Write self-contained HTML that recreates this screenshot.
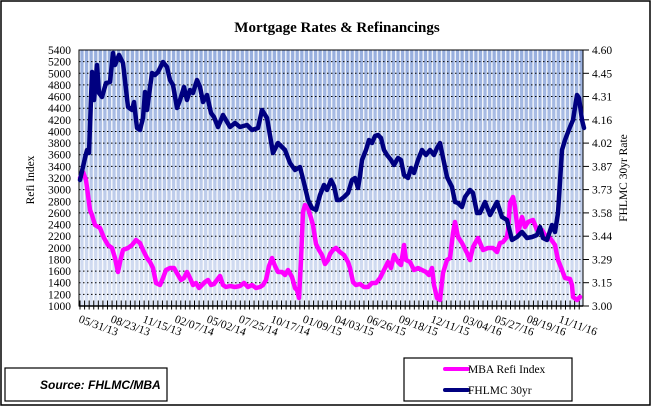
<!DOCTYPE html>
<html><head><style>
html,body{margin:0;padding:0;background:#fff;}
svg{display:block;}
text{font-family:"Liberation Serif",serif;}
</style></head><body>
<svg width="652" height="408" viewBox="0 0 652 408" xmlns="http://www.w3.org/2000/svg">
<defs>
<linearGradient id="bg" x1="0" y1="0" x2="0" y2="1">
<stop offset="0" stop-color="#97aede"/><stop offset="1" stop-color="#dbe3f4"/>
</linearGradient>
<pattern id="st" x="79" y="0" width="4.58" height="10" patternUnits="userSpaceOnUse">
<rect x="0" y="0" width="1.4" height="10" fill="#ffffff" opacity="0.85"/>
</pattern>
</defs>
<rect x="1" y="1" width="649" height="404" fill="#fff" stroke="#000" stroke-width="1.5"/>
<text x="337" y="32" text-anchor="middle" font-size="15" font-weight="bold">Mortgage Rates &amp; Refinancings</text>
<rect x="79" y="50" width="504" height="256" fill="url(#bg)"/>
<rect x="79" y="50" width="504" height="256" fill="url(#st)"/>
<g stroke="#000" stroke-width="1" stroke-dasharray="1.5,2.5">
<line x1="79" x2="583" y1="61.6" y2="61.6"/><line x1="79" x2="583" y1="73.3" y2="73.3"/><line x1="79" x2="583" y1="84.9" y2="84.9"/><line x1="79" x2="583" y1="96.5" y2="96.5"/><line x1="79" x2="583" y1="108.2" y2="108.2"/><line x1="79" x2="583" y1="119.8" y2="119.8"/><line x1="79" x2="583" y1="131.5" y2="131.5"/><line x1="79" x2="583" y1="143.1" y2="143.1"/><line x1="79" x2="583" y1="154.7" y2="154.7"/><line x1="79" x2="583" y1="166.4" y2="166.4"/><line x1="79" x2="583" y1="178" y2="178"/><line x1="79" x2="583" y1="189.6" y2="189.6"/><line x1="79" x2="583" y1="201.3" y2="201.3"/><line x1="79" x2="583" y1="212.9" y2="212.9"/><line x1="79" x2="583" y1="224.5" y2="224.5"/><line x1="79" x2="583" y1="236.2" y2="236.2"/><line x1="79" x2="583" y1="247.8" y2="247.8"/><line x1="79" x2="583" y1="259.5" y2="259.5"/><line x1="79" x2="583" y1="271.1" y2="271.1"/><line x1="79" x2="583" y1="282.7" y2="282.7"/><line x1="79" x2="583" y1="294.4" y2="294.4"/>
</g>
<rect x="79" y="50" width="504" height="256" fill="none" stroke="#000" stroke-width="1"/>
<line x1="79" y1="306" x2="583" y2="306" stroke="#000" stroke-width="1.5"/>
<g stroke="#000" stroke-width="1" stroke-dasharray="1,3.58">
<line x1="79.5" y1="301" x2="583" y2="301"/><line x1="79.5" y1="302" x2="583" y2="302"/><line x1="79.5" y1="303" x2="583" y2="303"/><line x1="79.5" y1="304" x2="583" y2="304"/><line x1="79.5" y1="305" x2="583" y2="305"/><line x1="79.5" y1="307" x2="583" y2="307"/><line x1="79.5" y1="308" x2="583" y2="308"/><line x1="79.5" y1="309" x2="583" y2="309"/>
</g>
<g font-size="11.5" text-anchor="end">
<text x="71" y="54">5400</text><text x="71" y="65.6">5200</text><text x="71" y="77.3">5000</text><text x="71" y="88.9">4800</text><text x="71" y="100.5">4600</text><text x="71" y="112.2">4400</text><text x="71" y="123.8">4200</text><text x="71" y="135.5">4000</text><text x="71" y="147.1">3800</text><text x="71" y="158.7">3600</text><text x="71" y="170.4">3400</text><text x="71" y="182">3200</text><text x="71" y="193.6">3000</text><text x="71" y="205.3">2800</text><text x="71" y="216.9">2600</text><text x="71" y="228.5">2400</text><text x="71" y="240.2">2200</text><text x="71" y="251.8">2000</text><text x="71" y="263.5">1800</text><text x="71" y="275.1">1600</text><text x="71" y="286.7">1400</text><text x="71" y="298.4">1200</text><text x="71" y="310">1000</text>
</g>
<g stroke="#000"><line x1="583" y1="50" x2="589" y2="50"/><line x1="583" y1="73.3" x2="589" y2="73.3"/><line x1="583" y1="96.5" x2="589" y2="96.5"/><line x1="583" y1="119.8" x2="589" y2="119.8"/><line x1="583" y1="143.1" x2="589" y2="143.1"/><line x1="583" y1="166.4" x2="589" y2="166.4"/><line x1="583" y1="189.6" x2="589" y2="189.6"/><line x1="583" y1="212.9" x2="589" y2="212.9"/><line x1="583" y1="236.2" x2="589" y2="236.2"/><line x1="583" y1="259.5" x2="589" y2="259.5"/><line x1="583" y1="282.7" x2="589" y2="282.7"/><line x1="583" y1="306" x2="589" y2="306"/></g>
<g font-size="11.5">
<text x="592" y="54">4.60</text><text x="592" y="77.3">4.45</text><text x="592" y="100.5">4.31</text><text x="592" y="123.8">4.16</text><text x="592" y="147.1">4.02</text><text x="592" y="170.4">3.87</text><text x="592" y="193.6">3.73</text><text x="592" y="216.9">3.58</text><text x="592" y="240.2">3.44</text><text x="592" y="263.5">3.29</text><text x="592" y="286.7">3.15</text><text x="592" y="310">3.00</text>
</g>
<text transform="translate(34,180) rotate(-90)" font-size="11.5" text-anchor="middle">Refi Index</text>
<text transform="translate(627,178) rotate(-90)" font-size="11.5" text-anchor="middle">FHLMC 30yr Rate</text>
<g font-size="11.5">
<text transform="translate(78,322) rotate(20)">05/31/13</text>
<text transform="translate(110,322) rotate(20)">08/23/13</text>
<text transform="translate(142,322) rotate(20)">11/15/13</text>
<text transform="translate(174,322) rotate(20)">02/07/14</text>
<text transform="translate(206,322) rotate(20)">05/02/14</text>
<text transform="translate(238,322) rotate(20)">07/25/14</text>
<text transform="translate(270,322) rotate(20)">10/17/14</text>
<text transform="translate(302,322) rotate(20)">01/09/15</text>
<text transform="translate(334,322) rotate(20)">04/03/15</text>
<text transform="translate(366,322) rotate(20)">06/26/15</text>
<text transform="translate(398,322) rotate(20)">09/18/15</text>
<text transform="translate(430,322) rotate(20)">12/11/15</text>
<text transform="translate(462,322) rotate(20)">03/04/16</text>
<text transform="translate(494,322) rotate(20)">05/27/16</text>
<text transform="translate(526,322) rotate(20)">08/19/16</text>
<text transform="translate(558,322) rotate(20)">11/11/16</text>
</g>
<polyline fill="none" stroke="#ff00ff" stroke-width="4.5" stroke-linejoin="round" stroke-linecap="round" points="80,178 83,172 86,180 88,195 90,210 92,215 95,225 100,228 104,238 108,245 112,248 115,258 118,272 120,262 123,250 128,248 132,245 136,240 140,243 143,250 147,258 150,262 153,268 156,283 160,285 163,278 166,270 170,268 174,268 178,275 181,280 184,278 187,272 190,278 193,285 196,283 199,288 202,285 205,282 208,280 211,285 214,284 217,280 220,276 223,285 226,287 230,286 235,287 240,286 244,283 248,287 252,285 256,288 260,287 263,285 266,280 269,266 272,258 275,266 278,272 282,272 285,275 288,270 292,277 295,288 297,290 299,298 301,260 303,212 305,205 308,208 311,218 313,225 316,244 319,250 322,255 325,264 328,260 330,254 333,250 336,248 340,252 344,255 348,262 350,268 353,282 356,285 360,284 364,287 368,287 372,283 376,283 380,278 384,270 388,262 391,268 394,255 398,262 401,265 404,245 406,260 410,262 414,270 418,268 422,270 426,272 429,275 432,268 434,285 437,298 440,300 443,273 447,260 450,258 453,233 455,222 458,237 462,243 467,253 470,260 473,247 478,238 483,250 488,248 493,248 497,252 500,243 503,242 507,237 508,230 510,203 513,197 515,207 518,233 522,217 525,227 528,222 533,220 537,230 542,230 545,235 550,238 555,245 558,260 562,270 565,278 570,279 572,285 573,297 577,300 580,297"/>
<polyline fill="none" stroke="#000080" stroke-width="4.5" stroke-linejoin="round" stroke-linecap="round" points="80,180 85,158 87,150 89,153 92,72 94,100 97,65 99,93 102,97 106,83 110,82 113,53 115,65 119,55 123,63 128,107 132,110 134,102 137,128 140,130 143,118 145,92 147,110 152,73 155,75 158,72 163,62 167,67 170,80 173,85 177,108 180,100 184,87 187,100 190,90 193,93 197,80 200,87 203,102 207,95 211,113 214,117 218,127 223,115 230,127 235,123 240,127 247,125 252,130 258,128 262,110 267,118 273,153 278,143 285,150 290,163 295,170 300,167 305,187 308,200 312,208 316,210 320,195 324,185 327,190 331,180 334,186 337,200 340,200 344,197 348,193 352,180 355,178 358,188 360,176 362,160 366,150 369,140 372,143 375,136 378,135 381,138 384,150 387,155 391,160 394,165 398,158 401,160 404,175 408,178 411,168 414,173 418,160 422,150 426,155 430,150 434,155 437,148 440,143 447,177 452,187 455,202 458,203 462,207 465,197 470,190 473,193 477,213 480,213 485,202 490,215 497,202 502,217 507,220 512,240 517,237 522,232 527,238 532,237 537,235 540,227 543,238 547,240 552,225 555,232 558,213 562,150 565,140 570,127 573,120 577,95 579,98 582,120 584,128"/>
<rect x="5" y="368" width="162" height="33" fill="#fff" stroke="#000" stroke-width="1.2"/>
<text x="40" y="389" font-size="12" font-weight="bold" font-style="italic" style="font-family:'Liberation Sans',sans-serif">Source: FHLMC/MBA</text>
<rect x="404" y="358" width="168" height="43" fill="#fff" stroke="#000" stroke-width="1.2"/>
<line x1="445" y1="369" x2="468" y2="369" stroke="#ff00ff" stroke-width="4" stroke-linecap="round"/>
<text x="468" y="373" font-size="11.5">MBA Refi Index</text>
<line x1="445" y1="390" x2="468" y2="390" stroke="#000080" stroke-width="4" stroke-linecap="round"/>
<text x="468" y="394" font-size="11.5">FHLMC 30yr</text>
</svg>
</body></html>
